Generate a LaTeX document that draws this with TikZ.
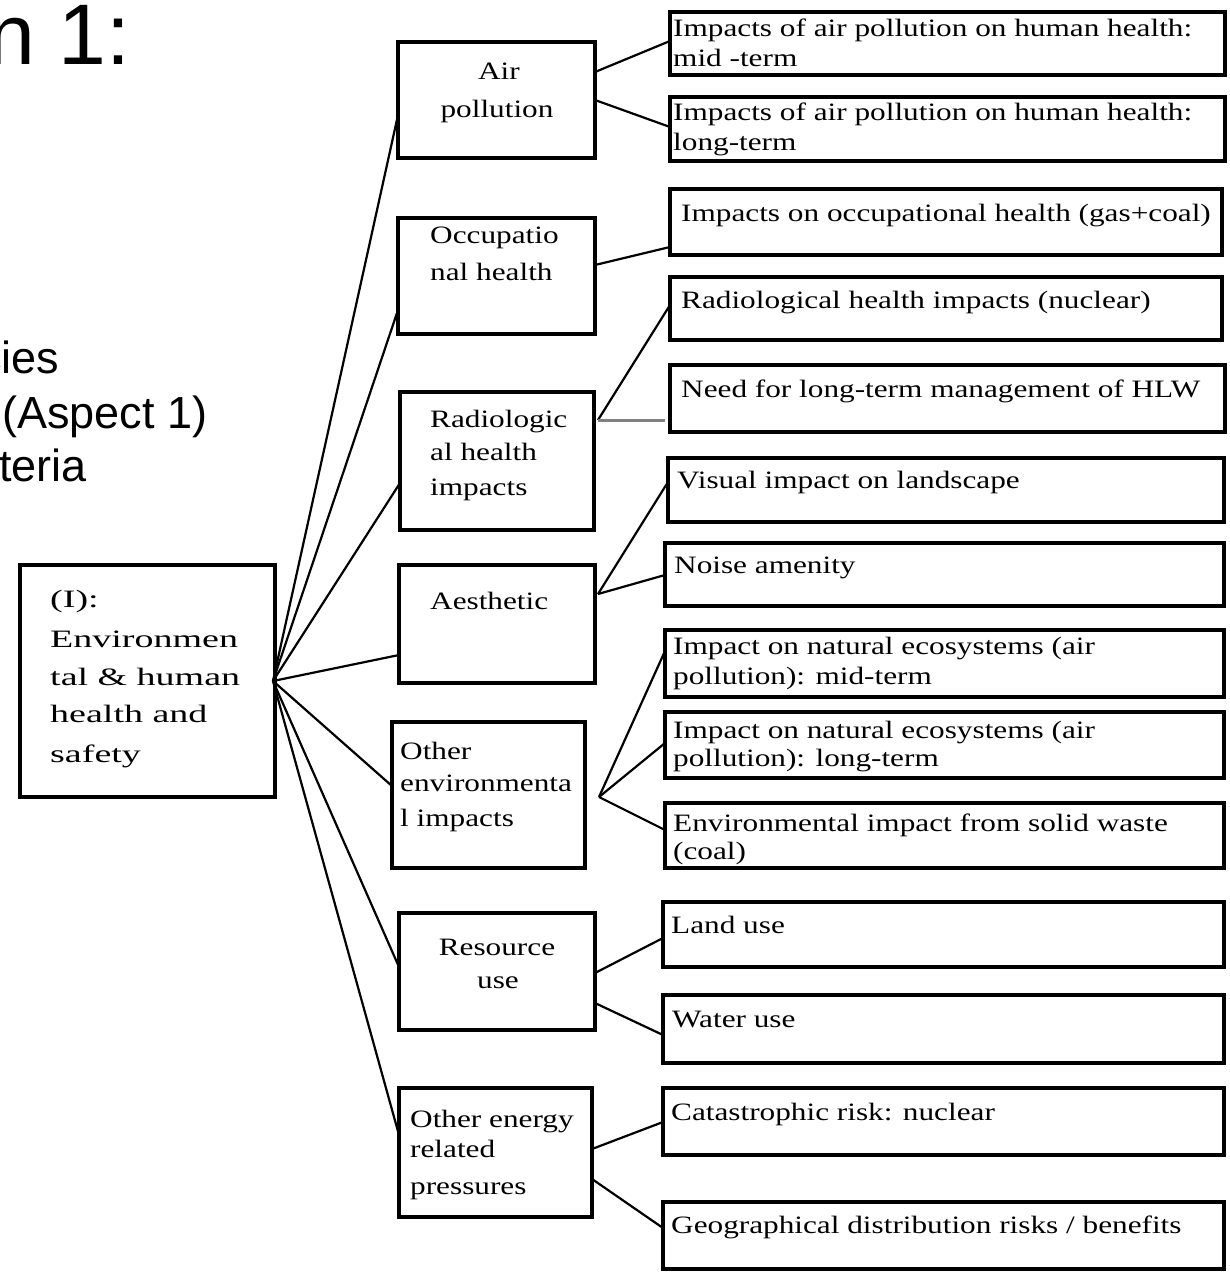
\documentclass[tikz,border=0pt]{standalone}
\usepackage{fontspec}
\setmainfont{Liberation Serif}
\newfontfamily\sansf{Liberation Sans}
\newfontfamily\serA[FakeStretch=1.25]{Liberation Serif}
\newfontfamily\serB[FakeStretch=1.52]{Liberation Serif}
\begin{document}
\begin{tikzpicture}[x=1pt,y=-1pt,
  box/.style={draw, line width=3.5pt, inner sep=0pt, outer sep=0pt, anchor=north west},
  bigbox/.style={box, line width=4pt},
  tl/.style={font=\serA\fontsize{25}{30}\selectfont, inner sep=0pt, anchor=base west},
  tc/.style={tl, anchor=base},
  tr/.style={font=\serB\fontsize{25}{30}\selectfont, inner sep=0pt, anchor=base west},
  slide/.style={font=\sansf\fontsize{45}{52}\selectfont, inner sep=0pt, anchor=base west},
  link/.style={line width=2.2pt},
  glink/.style={line width=3pt, draw=gray}]
\useasboundingbox (0,0) rectangle (1230,1276);
\clip (0,0) rectangle (1230,1276);

% slide text (cut off at the left)
\node[font=\sansf\fontsize{86}{98}\selectfont, inner sep=0pt, anchor=base east] (ttl) at (131,65) {n 1:};
\node[slide] (s1) at (-21,373) {cies};
\node[slide] (s2) at (2,428) {(Aspect 1)};
\node[slide] (s3) at (-1,481) {teria};

% root
\node[bigbox, minimum width=255, minimum height=232] (root) at (20,565) {};
\node[tr] (rt1) at (50,607) {(I):};
\node[tr] (rt2) at (50,647) {Environmen};
\node[tr] (rt3) at (50,685) {tal \& human};
\node[tr] (rt4) at (50,722) {health and};
\node[tr] (rt5) at (50,762) {safety};
\coordinate (J0) at (273,681);

% middle boxes
\node[box, minimum width=197, minimum height=116] (A) at (398,42) {};
\node[tc] (At1) at (499,80) {Air};
\node[tc] (At2) at (497,118) {pollution};

\node[box, minimum width=197, minimum height=116] (O) at (398,218) {};
\node[tl] (Ot1) at (430,243) {Occupatio};
\node[tl] (Ot2) at (430,280) {nal health};

\node[box, minimum width=194, minimum height=138] (R) at (400,392) {};
\node[tl] (Rt1) at (430,427) {Radiologic};
\node[tl] (Rt2) at (430,460) {al health};
\node[tl] (Rt3) at (430,495) {impacts};

\node[box, minimum width=196, minimum height=118] (Ae) at (399,565) {};
\node[tl] (Aet1) at (430,609) {Aesthetic};

\node[box, minimum width=193, minimum height=146] (Oe) at (392,722) {};
\node[tl] (Oet1) at (400,759) {Other};
\node[tl] (Oet2) at (400,791) {environmenta};
\node[tl] (Oet3) at (400,826) {l impacts};

\node[box, minimum width=196, minimum height=117] (Ru) at (399,913) {};
\node[tc] (Rut1) at (497,955) {Resource};
\node[tc] (Rut2) at (498,988) {use};

\node[box, minimum width=193, minimum height=129] (Oen) at (399,1088) {};
\node[tl] (Oent1) at (410,1127) {Other energy};
\node[tl] (Oent2) at (410,1157) {related};
\node[tl] (Oent3) at (410,1194) {pressures};

% right boxes
\node[box, minimum width=555, minimum height=63] (r1) at (670,12) {};
\node[tl] (r1a) at (673,37) {Impacts of air pollution on human health:};
\node[tl] (r1b) at (673,67) {mid -term};
\node[box, minimum width=555, minimum height=64] (r2) at (670,97) {};
\node[tl] (r2a) at (673,121) {Impacts of air pollution on human health:};
\node[tl] (r2b) at (673,151) {long-term};
\node[box, minimum width=552, minimum height=66] (r3) at (670,189) {};
\node[tl] (r3a) at (681,222) {Impacts on occupational health (gas+coal)};
\node[box, minimum width=552, minimum height=63] (r4) at (670,277) {};
\node[tl] (r4a) at (681,308) {Radiological health impacts (nuclear)};
\node[box, minimum width=555, minimum height=67] (r5) at (670,365) {};
\node[tl] (r5a) at (681,397) {Need for long-term management of HLW};
\node[box, minimum width=556, minimum height=64] (r6) at (668,458) {};
\node[tl] (r6a) at (677,488) {Visual impact on landscape};
\node[box, minimum width=559, minimum height=63] (r7) at (665,543) {};
\node[tl] (r7a) at (674,573) {Noise amenity};
\node[box, minimum width=559, minimum height=67] (r8) at (665,630) {};
\node[tl] (r8a) at (673,654) {Impact on natural ecosystems (air};
\node[tl] (r8b) at (673,684) {pollution): mid-term};
\node[box, minimum width=559, minimum height=66] (r9) at (665,712) {};
\node[tl] (r9a) at (673,738) {Impact on natural ecosystems (air};
\node[tl] (r9b) at (673,766) {pollution): long-term};
\node[box, minimum width=559, minimum height=65] (r10) at (665,803) {};
\node[tl] (r10a) at (673,831) {Environmental impact from solid waste};
\node[tl] (r10b) at (673,859) {(coal)};
\node[box, minimum width=561, minimum height=65] (r11) at (663,902) {};
\node[tl] (r11a) at (671,933) {Land use};
\node[box, minimum width=561, minimum height=68] (r12) at (663,995) {};
\node[tl] (r12a) at (672,1027) {Water use};
\node[box, minimum width=561, minimum height=67] (r13) at (663,1088) {};
\node[tl] (r13a) at (671,1120) {Catastrophic risk: nuclear};
\node[box, minimum width=561, minimum height=67] (r14) at (663,1202) {};
\node[tl] (r14a) at (671,1233) {Geographical distribution risks / benefits};

% root connectors
\draw[link] (J0) -- (A.west |- 0,115);
\draw[link] (J0) -- (O.west |- 0,310);
\draw[link] (J0) -- (R.west |- 0,483);
\draw[link] (J0) -- (Ae.west |- 0,655);
\draw[link] (J0) -- (Oe.west |- 0,786);
\draw[link] (J0) -- (Ru.west |- 0,967);
\draw[link] (J0) -- (Oen.west |- 0,1135);

% second level connectors
\coordinate (JR) at (598,420);
\coordinate (JAe) at (598,594);
\coordinate (JOe) at (599,797);
\coordinate (g5) at (665,420);
\draw[link] (A.east |- 0,72) -- (r1.west |- 0,41);
\draw[link] (A.east |- 0,100) -- (r2.west |- 0,127);
\draw[link] (O.east |- 0,265) -- (r3.west |- 0,247);
\draw[link] (JR) -- (r4.west |- 0,305);
\draw[glink] (JR) -- (g5);
\draw[link] (JAe) -- (r6.west |- 0,482);
\draw[link] (JAe) -- (r7.west |- 0,575);
\draw[link] (JOe) -- (r8.west |- 0,651);
\draw[link] (JOe) -- (r9.west |- 0,743);
\draw[link] (JOe) -- (r10.west |- 0,830);
\draw[link] (Ru.east |- 0,973) -- (r11.west |- 0,938);
\draw[link] (Ru.east |- 0,1003) -- (r12.west |- 0,1035);
\draw[link] (Oen.east |- 0,1149) -- (r13.west |- 0,1122);
\draw[link] (Oen.east |- 0,1179) -- (r14.west |- 0,1228);
\end{tikzpicture}
\end{document}
